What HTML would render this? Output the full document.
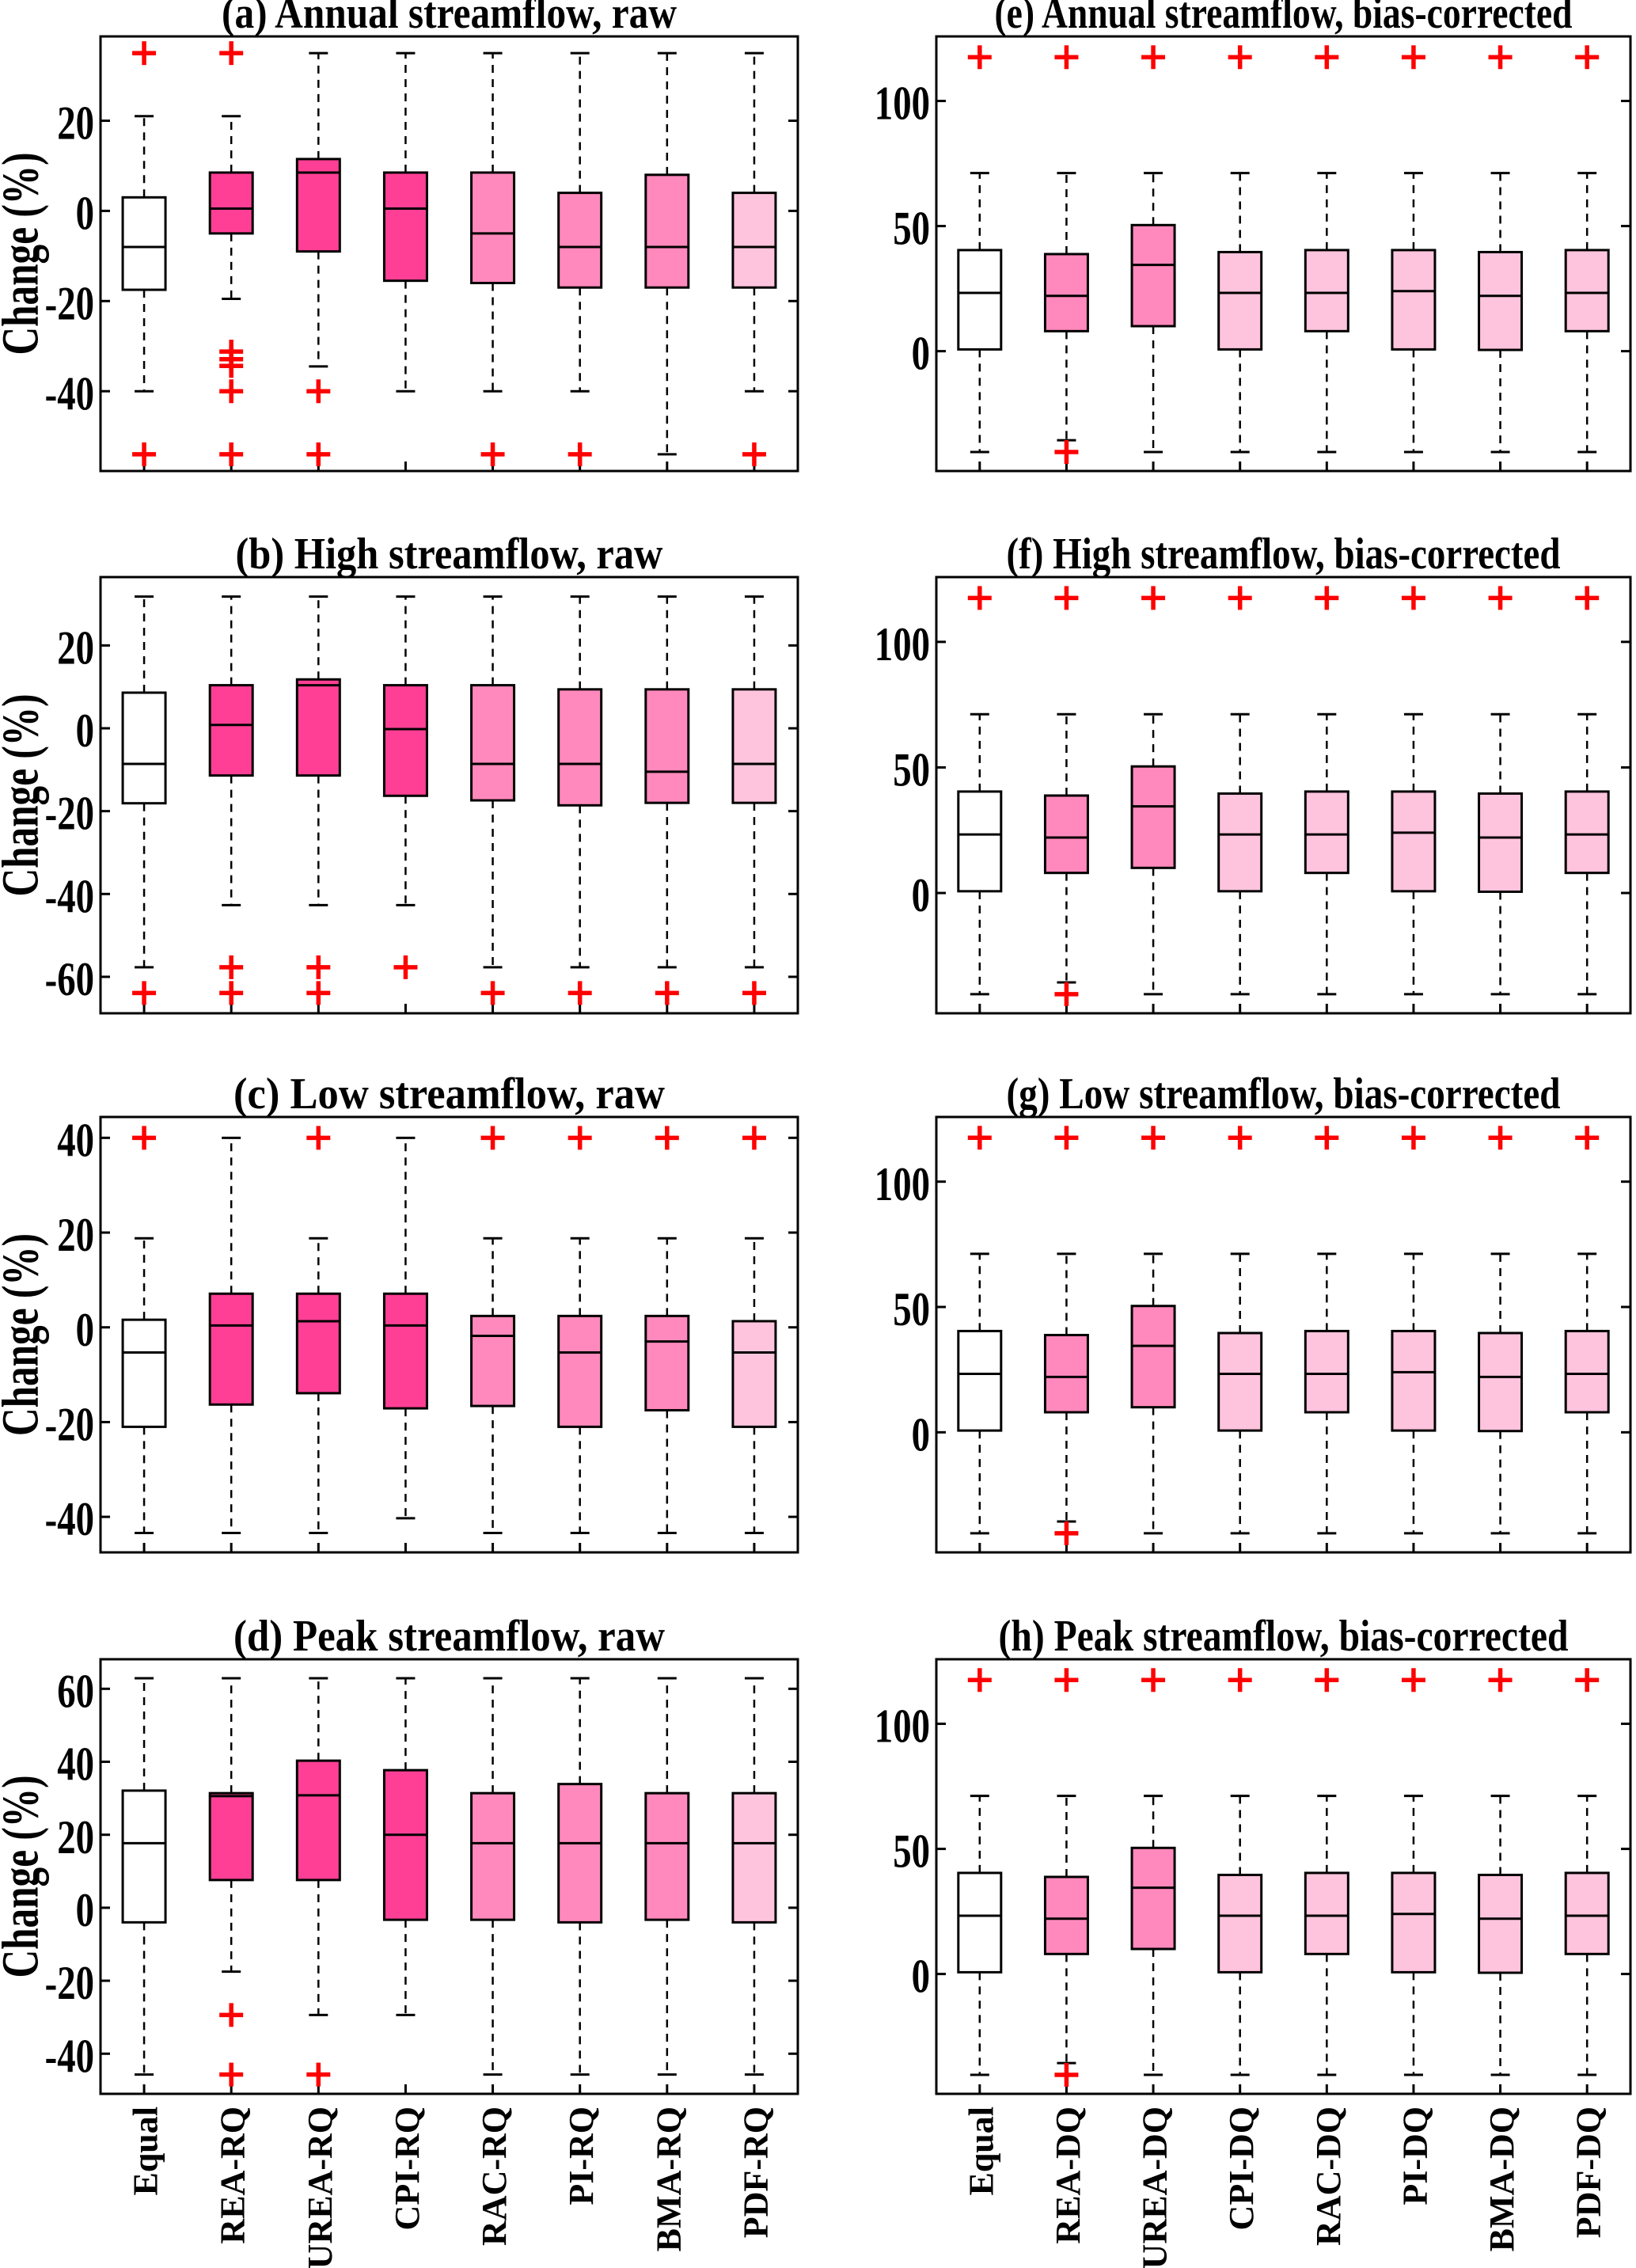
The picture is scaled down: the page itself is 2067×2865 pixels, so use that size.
<!DOCTYPE html>
<html><head><meta charset="utf-8"><style>
html,body{margin:0;padding:0;background:#fff;}
svg{display:block;}
text{font-family:"Liberation Serif","Times New Roman",serif;font-weight:bold;fill:#000;}
</style></head><body>
<svg id="fig" width="2067" height="2865" viewBox="0 0 2067 2865" xmlns="http://www.w3.org/2000/svg"></svg>
<script>
const catsRaw = ["Equal","REA-RQ","UREA-RQ","CPI-RQ","RAC-RQ","PI-RQ","BMA-RQ","PDF-RQ"];
const catsBC = ["Equal","REA-DQ","UREA-DQ","CPI-DQ","RAC-DQ","PI-DQ","BMA-DQ","PDF-DQ"];
const titles = ["(a) Annual streamflow, raw","(b) High streamflow,  raw","(c) Low streamflow, raw","(d) Peak streamflow, raw",
  "(e) Annual streamflow, bias-corrected","(f) High streamflow, bias-corrected","(g) Low streamflow, bias-corrected","(h) Peak streamflow, bias-corrected"];
const ticksA = [20,0,-20,-40];
const ticksB = [20,0,-20,-40,-60];
const ticksC = [40,20,0,-20,-40];
const ticksD = [60,40,20,0,-20,-40];
const ticksR = [100,50,0];
const colorsRaw = ["#ffffff","#ff3f95","#ff3f95","#ff3f95","#ff89bc","#ff89bc","#ff89bc","#ffc4dd"];
const colorsBC = ["#ffffff","#ff89bc","#ff89bc","#ffc4dd","#ffc4dd","#ffc4dd","#ffc4dd","#ffc4dd"];
// panel (a)
const aQ1 = [-17.5,-5,-9,-15.5,-16,-17,-17,-17];
const aMed = [-8,0.5,8.5,0.5,-5,-8,-8,-8];
const aQ3 = [3,8.5,11.5,8.5,8.5,4,8,4];
const aLo = [-40,-19.5,-34.5,-40,-40,-40,-54,-40];
const aHi = [21,21,35,35,35,35,35,35];
const aOut = [[35,-54],[35,-31.2,-32.9,-34.4,-40,-54],[-40,-54],[],[-54],[-54],[],[-54]];
// panel (b)
const bQ1 = [-18.1,-11.4,-11.4,-16.3,-17.4,-18.6,-18,-18];
const bMed = [-8.6,0.8,10.4,-0.2,-8.6,-8.6,-10.5,-8.6];
const bQ3 = [8.6,10.4,11.8,10.4,10.4,9.4,9.4,9.4];
const bLo = [-57.7,-42.7,-42.7,-42.7,-57.7,-57.7,-57.7,-57.7];
const bHi = [31.8,31.8,31.8,31.8,31.8,31.8,31.8,31.8];
const bOut = [[-63.9],[-57.7,-63.9],[-57.7,-63.9],[-57.7],[-63.9],[-63.9],[-63.9],[-63.9]];
// panel (c)
const cQ1 = [-21,-16.3,-13.9,-17.1,-16.6,-21,-17.5,-21];
const cMed = [-5.3,0.4,1.3,0.4,-1.8,-5.3,-3,-5.3];
const cQ3 = [1.6,7.1,7.1,7.1,2.4,2.4,2.4,1.3];
const cLo = [-43.4,-43.4,-43.4,-40.3,-43.4,-43.4,-43.4,-43.4];
const cHi = [18.8,40,18.8,40,18.8,18.8,18.8,18.8];
const cOut = [[40],[],[40],[],[40],[40],[40],[40]];
// panel (d)
const dQ1 = [-4,7.6,7.6,-3.3,-3.3,-4,-3.3,-4];
const dMed = [17.7,30.6,30.8,20,17.7,17.7,17.7,17.7];
const dQ3 = [32.1,31.4,40.3,37.7,31.4,33.9,31.4,31.4];
const dLo = [-45.7,-17.5,-29.4,-29.4,-45.7,-45.7,-45.7,-45.7];
const dHi = [62.9,62.9,62.9,62.9,62.9,62.9,62.9,62.9];
const dOut = [[],[-29.4,-45.7],[-45.7],[],[],[],[],[]];
// panels (e)-(h) bias-corrected
const eQ1 = [0.7,8,10,0.7,8,0.7,0.5,8];
const eMed = [23.3,22.1,34.5,23.3,23.3,24,22.1,23.3];
const eQ3 = [40.4,38.8,50.4,39.6,40.4,40.4,39.6,40.4];
const eLo = [-40.3,-35.6,-40.3,-40.3,-40.3,-40.3,-40.3,-40.3];
const eHi = [71.2,71.2,71.2,71.2,71.2,71.2,71.2,71.2];
const eOut = [[117.5],[117.5,-40.3],[117.5],[117.5],[117.5],[117.5],[117.5],[117.5]];

const NS = "http://www.w3.org/2000/svg";
const svg = document.getElementById("fig");
function mk(tag, attrs, parent){
  const e = document.createElementNS(NS, tag);
  for (const k in attrs) e.setAttribute(k, attrs[k]);
  (parent||svg).appendChild(e);
  return e;
}
const rows = [[46,595],[729,1280],[1411,1961],[2096,2645]];
const cols = [[127,1008],[1183,2060]];
const titleLens = [575,540,545,545,730,700,700,720];
const panels = [
  {c:0,r:0,dom:[-57.7,38.7],ticks:ticksA,q1:aQ1,med:aMed,q3:aQ3,lo:aLo,hi:aHi,out:aOut},
  {c:0,r:1,dom:[-68.8,36.5],ticks:ticksB,q1:bQ1,med:bMed,q3:bQ3,lo:bLo,hi:bHi,out:bOut},
  {c:0,r:2,dom:[-47.5,44.4],ticks:ticksC,q1:cQ1,med:cMed,q3:cQ3,lo:cLo,hi:cHi,out:cOut},
  {c:0,r:3,dom:[-51,68.1],ticks:ticksD,q1:dQ1,med:dMed,q3:dQ3,lo:dLo,hi:dHi,out:dOut},
  {c:1,r:0,dom:[-47.9,125.8],ticks:ticksR,q1:eQ1,med:eMed,q3:eQ3,lo:eLo,hi:eHi,out:eOut},
  {c:1,r:1,dom:[-47.9,125.8],ticks:ticksR,q1:eQ1,med:eMed,q3:eQ3,lo:eLo,hi:eHi,out:eOut},
  {c:1,r:2,dom:[-47.9,125.8],ticks:ticksR,q1:eQ1,med:eMed,q3:eQ3,lo:eLo,hi:eHi,out:eOut},
  {c:1,r:3,dom:[-47.9,125.8],ticks:ticksR,q1:eQ1,med:eMed,q3:eQ3,lo:eLo,hi:eHi,out:eOut}
];
panels.forEach((p, pi) => {
  const [x0,x1] = cols[p.c], [y0,y1] = rows[p.r];
  const cats = p.c === 0 ? catsRaw : catsBC;
  const colors = p.c === 0 ? colorsRaw : colorsBC;
  const letter = "abcdefgh"[pi];
  const g = mk("g", {});
  
  
  const ys = v => y1 - (v - p.dom[0]) / (p.dom[1] - p.dom[0]) * (y1 - y0);
  const step = (x1 - x0) / cats.length;
  const xs = i => x0 + (i + 0.5) * step;
  const t = mk("text", {x:(x0+x1)/2, y:y0-11, "text-anchor":"middle", "font-size":56, textLength:titleLens[pi], lengthAdjust:"spacingAndGlyphs"}, g);
  t.textContent = titles[pi];
  
  
  if (p.c === 0) {
    const yl = mk("text", {x:0, y:0, transform:`translate(26,${(y0+y1)/2}) rotate(-90)`, "text-anchor":"middle", "dominant-baseline":"central", "font-size":66, textLength:256, lengthAdjust:"spacingAndGlyphs"}, g);
    yl.textContent = "Change (%)";
    
    
  }
  p.ticks.forEach(v => {
    const y = ys(v);
    const tl = mk("text", {x:0, y:0, transform:`translate(${x0-8},${y+3}) scale(0.78,1)`, "text-anchor":"end", "dominant-baseline":"central", "font-size":60}, g);
    tl.textContent = v;
    
    
    const tk1 = mk("line", {x1:x0, x2:x0+12, y1:y, y2:y, stroke:"#000", "stroke-width":3}, g);
    
    
    const tk2 = mk("line", {x1:x1-12, x2:x1, y1:y, y2:y, stroke:"#000", "stroke-width":3}, g);
    
    
  });
  cats.forEach((c, i) => {
    const x = xs(i);
    const tk = mk("line", {x1:x, x2:x, y1:y1, y2:y1-12, stroke:"#000", "stroke-width":3}, g);
    
    
    const bw = 54, cw = 24;
    const yq1 = ys(p.q1[i]), yq3 = ys(p.q3[i]), ym = ys(p.med[i]), ylo = ys(p.lo[i]), yhi = ys(p.hi[i]);
    const w1 = mk("line", {x1:x, x2:x, y1:yq3, y2:yhi, stroke:"#000", "stroke-width":2.5, "stroke-dasharray":"10,8"}, g);
    
    
    const w2 = mk("line", {x1:x, x2:x, y1:yq1, y2:ylo, stroke:"#000", "stroke-width":2.5, "stroke-dasharray":"10,8"}, g);
    
    
    const c1 = mk("line", {x1:x-cw/2, x2:x+cw/2, y1:yhi, y2:yhi, stroke:"#000", "stroke-width":3}, g);
    
    
    const c2 = mk("line", {x1:x-cw/2, x2:x+cw/2, y1:ylo, y2:ylo, stroke:"#000", "stroke-width":3}, g);
    
    
    const box = mk("rect", {x:x-bw/2, y:yq3, width:bw, height:Math.max(1,yq1-yq3), fill:colors[i], stroke:"#000", "stroke-width":3}, g);
    
    
    const md = mk("line", {x1:x-bw/2, x2:x+bw/2, y1:ym, y2:ym, stroke:"#000", "stroke-width":3}, g);
    
    
    p.out[i].forEach(v => {
      const yo = ys(v);
      const o = mk("path", {d:`M${x-15},${yo}H${x+15}M${x},${yo-15}V${yo+15}`, stroke:"#ff0000", "stroke-width":5.5, fill:"none"}, g);
      
      
    });
    if (p.r === 3) {
      const xl = mk("text", {x:0, y:0, transform:`translate(${x+2},2661) rotate(-90)`, "text-anchor":"end", "dominant-baseline":"central", "font-size":44}, g);
      xl.textContent = c;
      
      
    }
  });
  const fr = mk("rect", {x:x0, y:y0, width:x1-x0, height:y1-y0, fill:"none", stroke:"#000", "stroke-width":3}, g);
  
  
});
</script>
</body></html>
